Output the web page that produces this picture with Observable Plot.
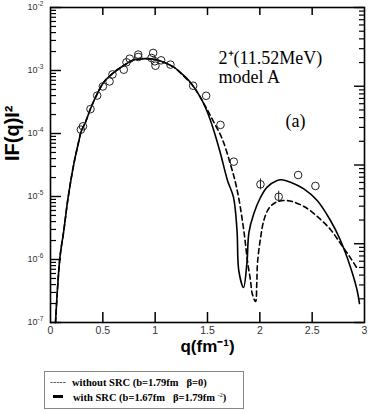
<!DOCTYPE html>
<html><head><meta charset="utf-8">
<script src="https://cdn.jsdelivr.net/npm/d3@7"></script>
<script src="https://cdn.jsdelivr.net/npm/@observablehq/plot@0.6"></script>
<style>
body{margin:0;background:#fff;}
#wrap{position:relative;width:387px;height:410px;background:#fff;overflow:hidden;}
#legend{position:absolute;left:44px;top:371px;width:200px;height:38px;border:1px solid #888;box-sizing:border-box;font-family:"Liberation Serif","Times New Roman",serif;font-weight:bold;font-size:10.5px;color:#000;}
#legend span{position:absolute;white-space:pre;line-height:12px;}
#legend .sym1{left:5px;top:4px;font-weight:normal;font-size:9px;letter-spacing:0.2px;}
#legend .t1{left:27px;top:5px;}
#legend .t2{left:28px;top:17px;}
#legend .bar{left:8px;top:23px;width:10px;height:2.5px;background:#000;}
#legend sup{font-size:6px;vertical-align:4px;font-weight:normal;}
</style></head>
<body><div id="wrap"><div id="chart"></div>
<div id="legend"><span class="sym1">-----</span><span class="t1">without SRC (b=1.79fm   β=0)</span><span class="bar"></span><span class="t2">with SRC (b=1.67fm   β=1.79fm <sup>-2</sup>)</span></div>
</div>
<script>
// measured data (q in fm^-1, |F(q)|^2)
const expQ = [0.29, 0.31, 0.382, 0.446, 0.50, 0.564, 0.592, 0.70, 0.726, 0.757, 0.838, 0.838, 0.965, 0.981, 0.996, 1.003, 1.057, 1.146, 1.363, 1.487, 1.624, 1.751, 2.006, 2.18, 2.366, 2.531];
const expF = [1.15e-4, 1.3e-4, 2.44e-4, 4.0e-4, 5.58e-4, 6.7e-4, 8.67e-4, 1.03e-3, 1.35e-3, 1.54e-3, 1.79e-3, 1.64e-3, 1.58e-3, 1.9e-3, 1.40e-3, 1.19e-3, 1.45e-3, 1.24e-3, 5.73e-4, 3.97e-4, 1.37e-4, 3.57e-5, 1.56e-5, 9.9e-6, 2.19e-5, 1.47e-5];
// error bars
const errQ = [2.006, 2.18];
const errLo = [1.28e-5, 8.1e-6];
const errHi = [1.90e-5, 1.21e-5];
// with SRC (solid)
const solidQ = [0.048, 0.089, 0.127, 0.169, 0.223, 0.272, 0.293, 0.334, 0.382, 0.446, 0.509, 0.589, 0.700, 0.796, 0.860, 0.955, 1.051, 1.178, 1.242, 1.338, 1.433, 1.500, 1.557, 1.624, 1.691, 1.748, 1.782, 1.799, 1.844, 1.877, 1.896, 1.942, 2.006, 2.070, 2.166, 2.207, 2.293, 2.420, 2.548, 2.675, 2.771, 2.866, 2.930, 2.952];
const solidF = [1.0e-7, 1.03e-6, 2.88e-6, 9.75e-6, 3.30e-5, 7.75e-5, 1.08e-4, 1.51e-4, 2.47e-4, 4.27e-4, 6.52e-4, 8.87e-4, 1.20e-3, 1.48e-3, 1.53e-3, 1.53e-3, 1.41e-3, 1.13e-3, 9.29e-4, 6.45e-4, 3.73e-4, 2.15e-4, 1.16e-4, 4.82e-5, 1.80e-5, 9.75e-6, 2.88e-6, 6.68e-7, 3.60e-7, 8.95e-7, 2.69e-6, 5.31e-6, 9.64e-6, 1.41e-5, 1.80e-5, 1.84e-5, 1.69e-5, 1.32e-5, 8.65e-6, 4.16e-6, 2.00e-6, 7.55e-7, 3.22e-7, 2.00e-7];
// without SRC (dashed)
const dashedQ = [0.048, 0.089, 0.127, 0.169, 0.223, 0.272, 0.293, 0.334, 0.382, 0.446, 0.509, 0.589, 0.700, 0.796, 0.860, 0.955, 1.051, 1.178, 1.242, 1.338, 1.385, 1.471, 1.557, 1.643, 1.720, 1.767, 1.799, 1.847, 1.885, 1.911, 1.927, 1.959, 1.971, 1.978, 2.006, 2.038, 2.086, 2.150, 2.229, 2.324, 2.453, 2.580, 2.675, 2.771, 2.866, 2.930];
const dashedF = [1.0e-7, 1.03e-6, 2.88e-6, 9.75e-6, 3.30e-5, 7.75e-5, 1.08e-4, 1.51e-4, 2.47e-4, 4.27e-4, 6.52e-4, 8.87e-4, 1.20e-3, 1.48e-3, 1.53e-3, 1.53e-3, 1.41e-3, 1.13e-3, 9.12e-4, 6.34e-4, 4.99e-4, 2.88e-4, 1.55e-4, 8.03e-5, 3.22e-5, 1.67e-5, 9.29e-6, 2.88e-6, 8.65e-7, 4.65e-7, 2.88e-7, 2.15e-7, 4.31e-7, 8.95e-7, 2.15e-6, 4.16e-6, 6.45e-6, 8.04e-6, 8.65e-6, 8.18e-6, 6.45e-6, 4.32e-6, 2.99e-6, 1.79e-6, 1.06e-6, 7.19e-7];
// ticks
const xTicks = [0, 0.5, 1, 1.5, 2, 2.5, 3];
const xTickLabels = ["0", "0.5", "1", "1.5", "2", "2.5", "3"];
const xInnerTicks = [0.5, 1, 1.5, 2, 2.5];
const yDecades = [1e-7, 1e-6, 1e-5, 1e-4, 1e-3, 1e-2];
const yExponents = ["-7", "-6", "-5", "-4", "-3", "-2"];
const rightDecadeCount = 4;

const exp = expQ.map((q, i) => ({q, f: expF[i]}));
const err = errQ.map((q, i) => ({q, lo: errLo[i], hi: errHi[i]}));
const solid = solidQ.map((q, i) => ({q, f: solidF[i]}));
const dashed = dashedQ.map((q, i) => ({q, f: dashedF[i]}));
const yLabels = yDecades.map((v, i) => ({v, e: yExponents[i]}));
const xLabels = xTicks.map((v, i) => ({v, t: xTickLabels[i]}));

const leftMinor = [];
for (let k = -7; k < -2; k++) for (let m = 2; m <= 9; m++) leftMinor.push(m * Math.pow(10, k));
// right axis: 4 decades spread across the same frame
const rMajor = [], rMinor = [];
for (let k = 0; k <= rightDecadeCount; k++) {
  rMajor.push(Math.pow(10, -7 + k * 5 / rightDecadeCount));
  if (k < rightDecadeCount) for (let m = 2; m <= 9; m++) rMinor.push(Math.pow(10, -7 + (k + Math.log10(m)) * 5 / rightDecadeCount));
}

const W = 387, H = 365, mL = 50, mR = 23, mT = 7, mB = 43;
const pw = W - mL - mR, ph = H - mT - mB;
const sans = "'Liberation Sans', Arial, sans-serif";
const serif = "'Liberation Serif', 'Times New Roman', serif";

const chart = Plot.plot({
  width: W, height: H, marginLeft: mL, marginRight: mR, marginTop: mT, marginBottom: mB,
  style: {background: "white", overflow: "visible"},
  x: {domain: [0, 3], axis: null},
  y: {type: "log", domain: [1e-7, 1e-2], axis: null},
  marks: [
    Plot.ruleY(yDecades, {y: d => d, insetRight: pw - 11, stroke: "black", strokeWidth: 1.4}),
    Plot.ruleY(leftMinor, {y: d => d, insetRight: pw - 6, stroke: "black", strokeWidth: 1.2}),
    Plot.ruleY(rMajor, {y: d => d, insetLeft: pw - 10, stroke: "black", strokeWidth: 1.4}),
    Plot.ruleY(rMinor, {y: d => d, insetLeft: pw - 5, stroke: "black", strokeWidth: 1.2}),
    Plot.ruleX(xInnerTicks, {x: d => d, insetBottom: ph - 8, stroke: "black", strokeWidth: 1.5}),
    Plot.ruleX(xInnerTicks, {x: d => d, insetTop: ph - 10, stroke: "black", strokeWidth: 1.5}),
    Plot.line(dashed, {x: "q", y: "f", curve: "catmull-rom", stroke: "black", strokeWidth: 1.6, strokeDasharray: "5,3.5"}),
    Plot.line(solid, {x: "q", y: "f", curve: "catmull-rom", stroke: "black", strokeWidth: 1.6}),
    Plot.ruleX(err, {x: "q", y1: "lo", y2: "hi", stroke: "#222", strokeWidth: 1}),
    Plot.dot(exp, {x: "q", y: "f", r: 3.8, stroke: "#222", strokeWidth: 1, fill: "none"}),
    Plot.frame({stroke: "black", strokeWidth: 1.6}),
    // tick labels
    Plot.text(yLabels, {y: "v", text: () => "10", frameAnchor: "left", dx: -13, textAnchor: "end", fontSize: 9, fontFamily: sans, fill: "#333"}),
    Plot.text(yLabels, {y: "v", text: "e", frameAnchor: "left", dx: -13, dy: -4, textAnchor: "start", fontSize: 6.5, fontFamily: sans, fill: "#333"}),
    Plot.text(xLabels, {x: "v", text: "t", frameAnchor: "bottom", dy: 11, fontSize: 10.5, fontFamily: sans, fill: "#333"}),
    // axis titles
    Plot.text(["q(fm⁻¹)"], {frameAnchor: "bottom", dy: 29, fontSize: 17, fontWeight: "bold", fontFamily: sans, fill: "black"}),
    Plot.text(["IF(q)I²"], {frameAnchor: "left", dx: -38, dy: -4, rotate: -90, fontSize: 20, fontWeight: "bold", fontFamily: sans, fill: "black"}),
    // annotations
    Plot.text(["2⁺(11.52MeV)"], {frameAnchor: "top-left", dx: 168, dy: 44, textAnchor: "start", fontSize: 18, fontFamily: serif, fill: "black"}),
    Plot.text(["model A"], {frameAnchor: "top-left", dx: 168, dy: 63, textAnchor: "start", fontSize: 18, fontFamily: serif, fill: "black"}),
    Plot.text(["(a)"], {frameAnchor: "top-left", dx: 235, dy: 107, textAnchor: "start", fontSize: 18, fontFamily: serif, fill: "black"})
  ]
});
document.getElementById("chart").appendChild(chart);
</script>
</body></html>
